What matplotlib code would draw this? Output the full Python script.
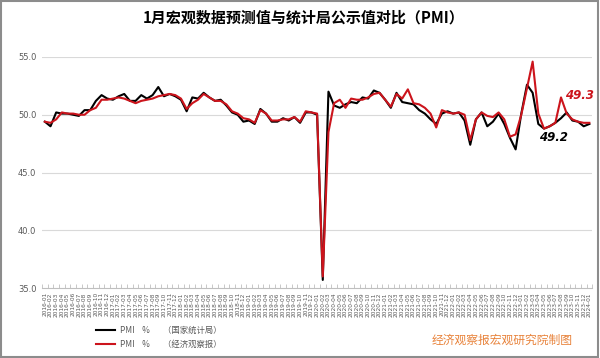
import matplotlib
matplotlib.use("Agg")
import matplotlib.pyplot as plt
from matplotlib.patches import Rectangle
import numpy as np

plt.rcParams['font.family'] = ['Noto Sans CJK SC', 'DejaVu Sans']

# months Jan 2016 .. Jan 2024
years = [2016, 2017, 2018, 2019, 2020, 2021, 2022, 2023]
months = [f"{y}-{m:02d}" for y in years for m in range(1, 13)] + ["2024-01"]

pmi_nbs = [
    49.4, 49.0, 50.2, 50.1, 50.1, 50.0, 49.9, 50.4, 50.4, 51.2, 51.7, 51.4,
    51.3, 51.6, 51.8, 51.2, 51.2, 51.7, 51.4, 51.7, 52.4, 51.6, 51.8, 51.6,
    51.3, 50.3, 51.5, 51.4, 51.9, 51.5, 51.2, 51.3, 50.8, 50.2, 50.0, 49.4,
    49.5, 49.2, 50.5, 50.1, 49.4, 49.4, 49.7, 49.5, 49.8, 49.3, 50.2, 50.2,
    50.0, 35.7, 52.0, 50.8, 50.6, 50.9, 51.1, 51.0, 51.5, 51.4, 52.1, 51.9,
    51.3, 50.6, 51.9, 51.1, 51.0, 50.9, 50.4, 50.1, 49.6, 49.2, 50.1, 50.3,
    50.1, 50.2, 49.5, 47.4, 49.6, 50.2, 49.0, 49.4, 50.1, 49.2, 48.0, 47.0,
    50.1, 52.6, 51.9, 49.2, 48.8, 49.0, 49.3, 49.7, 50.2, 49.5, 49.4, 49.0,
    49.2,
]

pmi_eeo = [
    49.4, 49.3, 49.6, 50.2, 50.1, 50.1, 50.0, 50.0, 50.4, 50.6, 51.3, 51.3,
    51.4, 51.5, 51.4, 51.2, 51.0, 51.2, 51.3, 51.4, 51.6, 51.7, 51.8, 51.7,
    51.4, 50.5, 51.0, 51.3, 51.8, 51.5, 51.2, 51.2, 50.9, 50.3, 50.1, 49.7,
    49.6, 49.3, 50.4, 50.1, 49.5, 49.5, 49.6, 49.6, 49.8, 49.4, 50.3, 50.2,
    50.1, 36.0, 48.5, 51.0, 51.3, 50.6, 51.4, 51.3, 51.3, 51.5, 51.8, 51.9,
    51.3, 50.7, 51.8, 51.4, 52.2, 51.0, 50.9, 50.6, 50.1, 48.9, 50.4, 50.2,
    50.1, 50.2, 50.0, 47.8, 49.6, 50.2, 49.9, 49.8, 50.2, 49.6, 48.1, 48.3,
    50.0, 52.3, 54.6, 50.1, 48.8, 49.0, 49.3, 51.5, 50.1, 49.6, 49.4, 49.3,
    49.3,
]

label_nbs = "PMI    %       （国家统计局）"
label_eeo = "PMI    %       （经济观察报）"
title = "1月宏观数据预测值与统计局公示值对比（PMI）"
credit = "经济观察报宏观研究院制图"
yticks = [35.0, 40.0, 45.0, 50.0, 55.0]

fig = plt.figure(figsize=(6.0, 3.58), dpi=100)
fig.patch.set_facecolor('white')
fig.patches.append(Rectangle((0.002, 0.003), 0.995, 0.994, transform=fig.transFigure,
                             fill=False, edgecolor='#8c8c8c', linewidth=1.5))

ax = fig.add_axes([0.07, 0.1955, 0.917, 0.6453])
x = np.arange(len(months))
ax.plot(x, pmi_nbs, color='black', linewidth=1.5, label=label_nbs, zorder=3)
ax.plot(x, pmi_eeo, color='#CC141C', linewidth=1.5, label=label_eeo, zorder=4)

ax.set_xlim(-0.5, len(months) - 0.5)
ax.set_ylim(35, 55)
ax.set_yticks(yticks)
ax.set_yticklabels([f"{v:.1f}" for v in yticks], fontsize=6, color='#595959',
                   family=['DejaVu Sans'])
ax.tick_params(axis='y', length=0, pad=4)
for v in yticks[1:]:
    ax.axhline(v, color='#d9d9d9', linewidth=0.8, zorder=1)

ax.set_xticks(x)
ax.set_xticklabels(months, rotation=90, fontsize=4.2, color='#595959',
                   family=['DejaVu Sans'])
ax.set_xticks(np.arange(-0.5, len(months), 1), minor=True)
ax.tick_params(axis='x', which='major', length=0, pad=3)
ax.tick_params(axis='x', which='minor', length=3, color='#bfbfbf', width=0.6, direction='in')

for s in ['left', 'right', 'top']:
    ax.spines[s].set_visible(False)
ax.spines['bottom'].set_color('#bfbfbf')
ax.spines['bottom'].set_linewidth(0.8)

ax.text(len(months) - 0.2, 51.65, f"{pmi_eeo[-1]:.1f}", color='#CC141C',
        fontsize=8.5, fontweight='bold', style='italic', ha='right', va='center',
        family=['DejaVu Sans'])
ax.text(len(months) - 4.8, 48.0, f"{pmi_nbs[-1]:.1f}", color='black',
        fontsize=8.5, fontweight='bold', style='italic', ha='right', va='center',
        family=['DejaVu Sans'])

fig.text(0.506, 0.952, title, ha='center', va='center', fontsize=10.8, fontweight='bold',
         color='black')

leg = ax.legend(loc='upper left', bbox_to_anchor=(0.155, 0.1), bbox_transform=fig.transFigure,
                frameon=False, fontsize=6, handlelength=2.2, handletextpad=0.6,
                labelspacing=0.6, borderaxespad=0)
for t in leg.get_texts():
    t.set_color('#595959')

fig.text(0.837, 0.05, credit, ha='center', va='center', fontsize=8.5,
         color='#E8823A', fontweight='medium')

fig.savefig('out.png', dpi=100, facecolor='white')
